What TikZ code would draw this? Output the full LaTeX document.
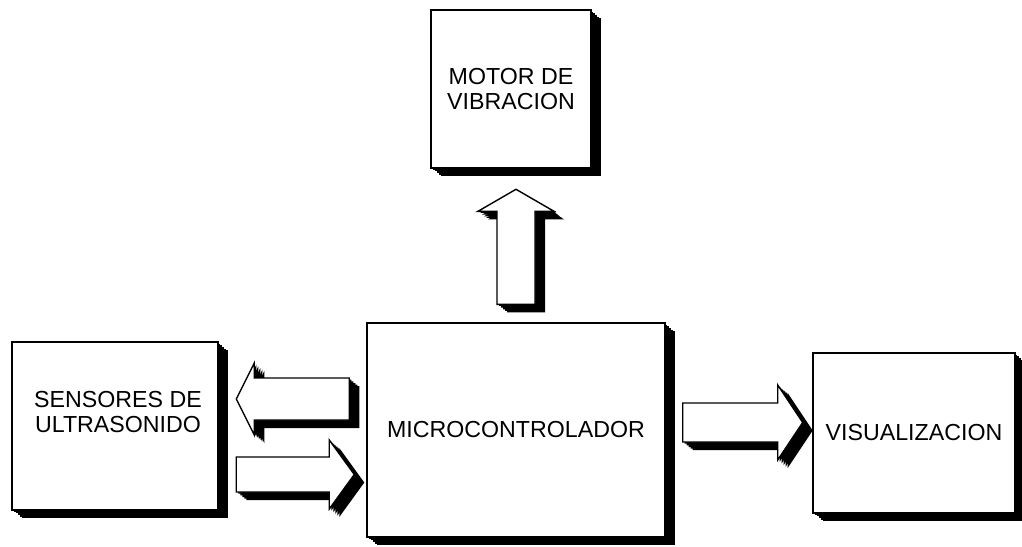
\documentclass[tikz,border=0pt]{standalone}
\usepackage{fontspec}
\setmainfont{Liberation Sans}
\usetikzlibrary{calc,shadows}

\begin{document}
\begin{tikzpicture}[x=.03cm,y=-.03cm,
  every node/.style={font=\fontsize{19.8}{20.5}\selectfont,align=center,inner sep=0pt},
  extrude/.style={
    general shadow={fill=black,shadow xshift=.06cm,shadow yshift=-.05cm},
    general shadow={fill=black,shadow xshift=.12cm,shadow yshift=-.1cm},
    general shadow={fill=black,shadow xshift=.18cm,shadow yshift=-.15cm},
    general shadow={fill=black,shadow xshift=.24cm,shadow yshift=-.2cm},
    general shadow={fill=black,shadow xshift=.3cm,shadow yshift=-.24cm}},
  block/.style={extrude,draw=black,fill=white,line width=1.2pt},
  blockarrow/.style={extrude,draw=black,fill=white,line width=1.2pt,line join=miter}]

\useasboundingbox (0,0) rectangle (1022,546);

% The four blocks of the system.
\node[block,minimum width=6.18cm,minimum height=5.04cm] (sens) at (115,426) {};
\node (senstext) at ($(sens)+(3,-14)$) {SENSORES DE\\ULTRASONIDO};
\node[block,minimum width=8.94cm,minimum height=6.42cm] (micro) at (516,430)
  {MICROCONTROLADOR};
\node[block,minimum width=4.8cm,minimum height=4.74cm] (motor) at (511,89)
  {MOTOR DE\\VIBRACION};
\node[block,minimum width=6.06cm,minimum height=4.8cm] (visu) at (914,433)
  {VISUALIZACION};

% Block arrows keep a fixed gap to the faces of the boxes they join.
\coordinate (upbase) at ($(micro.north)+(0,-18)$);
\coordinate (lefttail) at ($(micro.west)+(-17,-31)$);
\coordinate (intip) at ($(micro.west)+(-12,44.5)$);
\coordinate (outtail) at ($(micro.east)+(17,-7.5)$);

\path[blockarrow] ($(upbase)+(-19,0)$) -- ++(0,-93) -- ++(-19,0) -- ++(38,-22)
  -- ++(38,22) -- ++(-19,0) -- ++(0,93) -- cycle;
\path[blockarrow] ($(lefttail)+(0,-21)$) -- ++(-95,0) -- ++(0,-15) -- ++(-18,36)
  -- ++(18,36) -- ++(0,-15) -- ++(95,0) -- cycle;
\path[blockarrow] (intip) -- ++(-25,-34.5) -- ++(0,17) -- ++(-93,0) -- ++(0,35)
  -- ++(93,0) -- ++(0,17) -- cycle;
\path[blockarrow] ($(outtail)+(0,-19.5)$) -- ++(95,0) -- ++(0,-18) -- ++(25,37.5)
  -- ++(-25,37.5) -- ++(0,-18) -- ++(-95,0) -- cycle;
\end{tikzpicture}
\end{document}
